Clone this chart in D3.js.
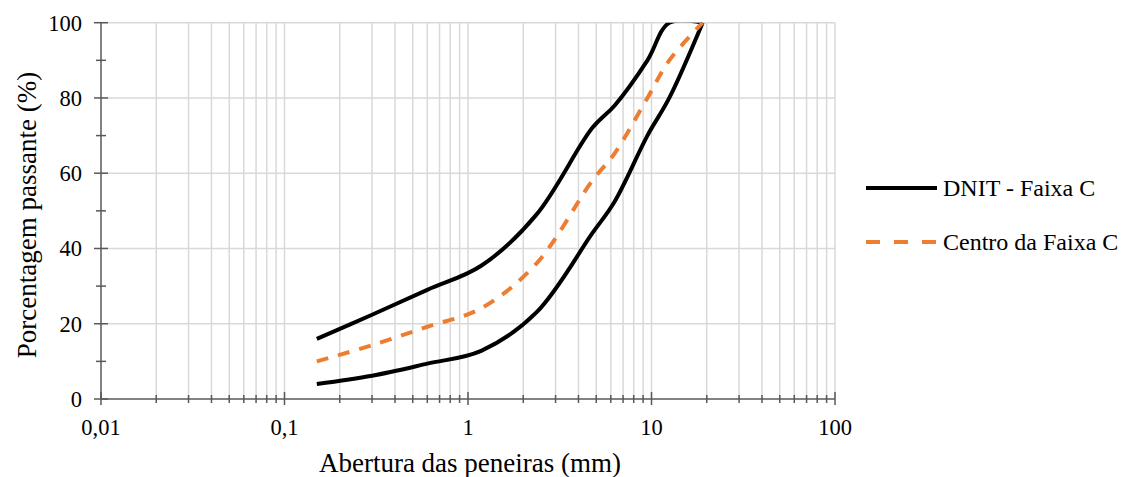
<!DOCTYPE html>
<html>
<head>
<meta charset="utf-8">
<script src="https://cdn.jsdelivr.net/npm/d3@7"></script>
<style>
  body { margin: 0; background: #fff; }
  svg text { font-family: "Liberation Serif", "Times New Roman", serif; fill: #000; }
</style>
</head>
<body>
<svg id="chart" width="1121" height="477"></svg>
<script>
// peneiras (mm) e limites da faixa
const sieves = [0.15, 0.3, 0.6, 1.18, 2.36, 4.75, 6.3, 9.5, 12.5, 19];
const upperLimit = [16, 22.4, 29, 35.4, 49, 72, 78, 90, 100, 100];
const lowerLimit = [4, 6.2, 9.4, 12.8, 23, 44, 52.5, 70, 80, 100];
const centerBand = [10, 14.3, 19.2, 24.1, 36, 58, 65.3, 80, 90, 100];

const xTicks = [0.01, 0.1, 1, 10, 100];
const xTickLabels = ["0,01", "0,1", "1", "10", "100"];
const yTicks = [0, 20, 40, 60, 80, 100];

const plotLeft = 101, plotRight = 835, plotTop = 22.7, plotBottom = 399;

const svg = d3.select("#chart");

const x = d3.scaleLog().domain([0.01, 100]).range([plotLeft, plotRight]);
const y = d3.scaleLinear().domain([0, 100]).range([plotBottom, plotTop]);

// todas as linhas de grade verticais (maiores e menores)
const minorX = [];
for (let d = 0.01; d < 100; d *= 10) {
    for (let k = 2; k <= 9; k++) minorX.push(d * k);
}

const grid = svg.append("g").attr("stroke", "#d9d9d9").attr("stroke-width", 1.5);
grid.selectAll(".vx")
    .data(minorX.concat(xTicks.slice(1)))
    .enter().append("line")
    .attr("x1", d => x(d)).attr("x2", d => x(d))
    .attr("y1", plotTop).attr("y2", plotBottom);
grid.selectAll(".hy")
    .data(yTicks.slice(1))
    .enter().append("line")
    .attr("x1", plotLeft).attr("x2", plotRight)
    .attr("y1", d => y(d)).attr("y2", d => y(d));

// eixos
const axisColor = "#595959";
const axes = svg.append("g").attr("stroke", axisColor).attr("stroke-width", 1.5);
axes.append("line").attr("x1", plotLeft).attr("x2", plotRight).attr("y1", plotBottom).attr("y2", plotBottom);
axes.append("line").attr("x1", plotLeft).attr("x2", plotLeft).attr("y1", plotTop).attr("y2", plotBottom);

axes.selectAll(".xmaj").data(xTicks).enter().append("line")
    .attr("x1", d => x(d)).attr("x2", d => x(d))
    .attr("y1", plotBottom - 7).attr("y2", plotBottom + 6);
axes.selectAll(".xmin").data(minorX).enter().append("line")
    .attr("x1", d => x(d)).attr("x2", d => x(d))
    .attr("y1", plotBottom - 4).attr("y2", plotBottom + 4);
axes.selectAll(".ymaj").data(yTicks).enter().append("line")
    .attr("x1", plotLeft - 7).attr("x2", plotLeft + 7)
    .attr("y1", d => y(d)).attr("y2", d => y(d));
axes.selectAll(".ymin").data([10, 30, 50, 70, 90]).enter().append("line")
    .attr("x1", plotLeft - 5).attr("x2", plotLeft + 5)
    .attr("y1", d => y(d)).attr("y2", d => y(d));

// rótulos dos eixos
svg.selectAll(".xl").data(xTicks).enter().append("text")
    .attr("x", d => x(d)).attr("y", 435)
    .attr("text-anchor", "middle").attr("font-size", 22.5)
    .text((d, i) => xTickLabels[i]);
svg.selectAll(".yl").data(yTicks).enter().append("text")
    .attr("x", 82).attr("y", d => y(d) + 8)
    .attr("text-anchor", "end").attr("font-size", 22.5)
    .text(d => d);

svg.append("text")
    .attr("x", 470).attr("y", 472)
    .attr("text-anchor", "middle").attr("font-size", 27)
    .text("Abertura das peneiras (mm)");
svg.append("text")
    .attr("transform", "translate(36,215) rotate(-90)")
    .attr("text-anchor", "middle").attr("font-size", 27)
    .text("Porcentagem passante (%)");

// curvas
svg.append("clipPath").attr("id", "plot")
    .append("rect").attr("x", plotLeft).attr("y", plotTop)
    .attr("width", plotRight - plotLeft).attr("height", plotBottom - plotTop);

const line = d3.line()
    .x(d => x(d[0]))
    .y(d => y(d[1]))
    .curve(d3.curveCatmullRom.alpha(0.5));

const curves = svg.append("g").attr("clip-path", "url(#plot)").attr("fill", "none");
[upperLimit, lowerLimit].forEach(vals => {
    curves.append("path")
        .attr("d", line(d3.zip(sieves, vals)))
        .attr("stroke", "#000").attr("stroke-width", 4);
});
curves.append("path")
    .attr("d", line(d3.zip(sieves, centerBand)))
    .attr("stroke", "#ed7d31").attr("stroke-width", 4)
    .attr("stroke-dasharray", "12,10");

// legenda
const legend = svg.append("g");
legend.append("line").attr("x1", 866).attr("x2", 937).attr("y1", 188).attr("y2", 188)
    .attr("stroke", "#000").attr("stroke-width", 4);
legend.append("text").attr("x", 943).attr("y", 196).attr("font-size", 24).text("DNIT - Faixa C");
legend.append("line").attr("x1", 866).attr("x2", 937).attr("y1", 242).attr("y2", 242)
    .attr("stroke", "#ed7d31").attr("stroke-width", 4).attr("stroke-dasharray", "14,14");
legend.append("text").attr("x", 943).attr("y", 250).attr("font-size", 24).text("Centro da Faixa C");
</script>
</body>
</html>
